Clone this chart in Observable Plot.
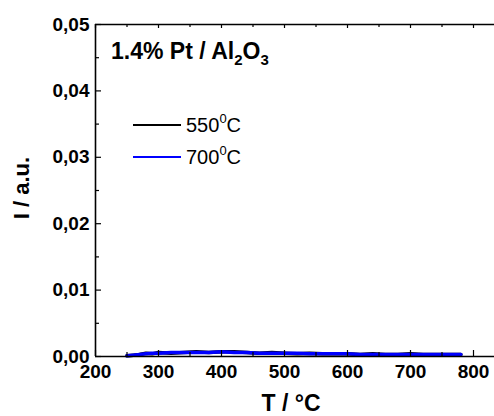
<!DOCTYPE html>
<html><head><meta charset="utf-8">
<script src="https://cdn.jsdelivr.net/npm/d3@7"></script>
<script src="https://cdn.jsdelivr.net/npm/@observablehq/plot@0.6"></script>
<style>
body{margin:0;background:#fff}
svg{font-family:"Liberation Sans",Arial,sans-serif}
</style>
</head><body><div id="chart"></div>
<script>
const temps = [250,260,270,280,290,300,320,340,360,380,400,420,440,460,480,500,520,540,560,580,600,620,640,660,680,700,720,740,760,780];
const i550  = [0.0001,0.0002,0.0003,0.0005,0.0004,0.0006,0.0005,0.0006,0.0007,0.0006,0.0007,0.0007,0.0006,0.0005,0.0006,0.0005,0.0004,0.0005,0.0004,0.0004,0.0004,0.0003,0.0004,0.0003,0.0003,0.0004,0.0003,0.0003,0.0003,0.0003];
const i700  = [0.0001,0.0002,0.0003,0.0004,0.0005,0.0005,0.0006,0.0006,0.0006,0.0006,0.0007,0.0006,0.0006,0.0005,0.0005,0.0005,0.0005,0.0004,0.0004,0.0004,0.0004,0.0003,0.0003,0.0003,0.0003,0.0003,0.0003,0.0003,0.0003,0.0003];
const seriesNames = ["550", "700"];
const seriesColors = ["#000000", "#0000ff"];
const xMajor = [200,300,400,500,600,700,800];
const xMinor = [250,350,450,550,650,750,850];
const yMajor = [0,0.01,0.02,0.03,0.04,0.05];
const yMinor = [0.005,0.015,0.025,0.035,0.045];
const yTickLabels = ["0,00","0,01","0,02","0,03","0,04","0,05"];
const title = {main:"1.4% Pt / Al", sub1:"2", mid:"O", sub2:"3"};
const xLabel = "T / °C";
const yLabel = "I / a.u.";

const data = [];
temps.forEach((t,i)=>{ data.push({t, v:i550[i], s:"550"}); });
temps.forEach((t,i)=>{ data.push({t, v:i700[i], s:"700"}); });

const W = 494, H = 416, mL = 95, mT = 24, mB = 60, mR = 0;
const xDom = [200,850], xRange = [95,504.5], yDom = [0,0.05], yRange = [356,24];
// convert a tick length in pixels to data units on each axis
const xPx = (xDom[1]-xDom[0])/(xRange[1]-xRange[0]);
const yPx = (yDom[1]-yDom[0])/(yRange[0]-yRange[1]);
const tk = {stroke:"#000", strokeWidth:1.2};

const plot = Plot.plot({
  width:W, height:H,
  marginLeft:mL, marginTop:mT, marginBottom:mB, marginRight:mR,
  style:{fontSize:"19px", fontWeight:"bold", color:"#000", background:"#fff"},
  x:{domain:xDom, range:xRange, label:null},
  y:{domain:yDom, range:yRange, label:null},
  color:{domain:seriesNames, range:seriesColors},
  marks:[
    Plot.axisX(xMajor, {anchor:"bottom", tickSize:0, tickPadding:8, tickFormat:d=>String(d), label:null}),
    Plot.axisY(yMajor, {anchor:"left", tickSize:0, tickPadding:6, tickFormat:d=>yTickLabels[yMajor.indexOf(d)], label:null}),
    Plot.line(data, {x:"t", y:"v", z:"s", stroke:"s", strokeWidth:3.5, curve:"linear"}),
    Plot.ruleX(xMajor, {x:d=>d, y1:yDom[0], y2:yDom[0]+6*yPx, ...tk}),
    Plot.ruleX(xMinor, {x:d=>d, y1:yDom[0], y2:yDom[0]+4*yPx, ...tk}),
    Plot.ruleX(xMajor, {x:d=>d, y1:yDom[1], y2:yDom[1]-4*yPx, ...tk}),
    Plot.ruleX(xMinor, {x:d=>d, y1:yDom[1], y2:yDom[1]-3*yPx, ...tk}),
    Plot.ruleY(yMajor, {y:d=>d, x1:xDom[0], x2:xDom[0]+6*xPx, ...tk}),
    Plot.ruleY(yMinor, {y:d=>d, x1:xDom[0], x2:xDom[0]+4*xPx, ...tk}),
    Plot.ruleY([yDom[1]], {x1:xDom[0], x2:xDom[1], stroke:"#000", strokeWidth:1.6}),
    Plot.ruleY([yDom[0]], {x1:xDom[0], x2:xDom[1], stroke:"#000", strokeWidth:1.6}),
    Plot.ruleX([xDom[0]], {y1:yDom[0], y2:yDom[1], stroke:"#000", strokeWidth:1.6})
  ]
});
document.getElementById("chart").appendChild(plot);

const svg = d3.select(plot);
// title
const tt = svg.append("text").attr("x",111).attr("y",59).attr("text-anchor","start").attr("font-size",23).attr("font-weight","bold").attr("fill","#000");
tt.append("tspan").text(title.main);
tt.append("tspan").attr("font-size",15).attr("dy",6).text(title.sub1);
tt.append("tspan").attr("dy",-6).text(title.mid);
tt.append("tspan").attr("font-size",15).attr("dy",6).text(title.sub2);
// axis labels
svg.append("text").attr("x",291).attr("y",411).attr("text-anchor","middle").attr("font-size",23).attr("font-weight","bold").text(xLabel);
svg.append("text").attr("transform","translate(29,188) rotate(-90)").attr("text-anchor","middle").attr("font-size",22).attr("font-weight","bold").text(yLabel);
// legend
seriesNames.forEach((n,i)=>{
  const y = 125 + i*32;
  svg.append("line").attr("x1",133).attr("x2",181).attr("y1",y).attr("y2",y).attr("stroke",seriesColors[i]).attr("stroke-width",2);
  const t = svg.append("text").attr("x",186).attr("y",y+7).attr("text-anchor","start").attr("font-size",20).attr("font-weight","normal").attr("fill","#000");
  t.append("tspan").text(n);
  t.append("tspan").attr("font-size",13).attr("dy",-9).text("0");
  t.append("tspan").attr("dy",9).text("C");
});
</script></body></html>
